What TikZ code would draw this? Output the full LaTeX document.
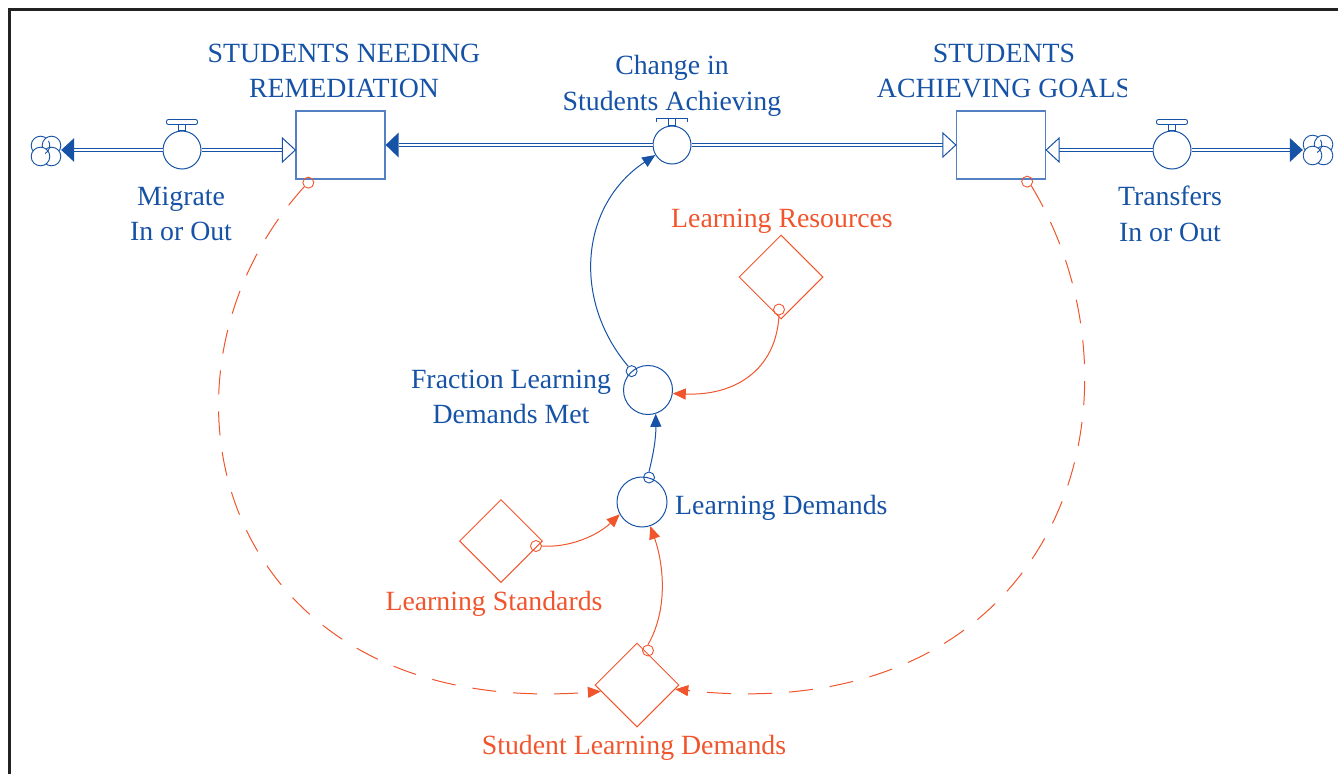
\documentclass[tikz,border=0pt]{standalone}
\usepackage{fontspec}
\setmainfont{Liberation Serif}
\usetikzlibrary{arrows.meta,shapes.geometric,calc}
\definecolor{vblue}{RGB}{22,82,165}
\definecolor{vbox}{RGB}{85,128,196}
\definecolor{vred}{RGB}{240,85,45}
\definecolor{framec}{RGB}{34,34,34}
\begin{document}
\begin{tikzpicture}[x=1pt,y=-1pt,
  txt/.style={inner sep=0pt, font=\fontsize{27.8}{35.5}\selectfont, align=center},
  bluetxt/.style={txt, text=vblue},
  redtxt/.style={txt, text=vred},
  stock/.style={draw=vbox, line width=1.3pt, minimum width=89pt, minimum height=68pt, inner sep=0pt},
  valve/.style={circle, draw=vblue, line width=1pt, minimum size=38pt, inner sep=0pt},
  auxv/.style={circle, draw=vblue, line width=1pt, inner sep=0pt},
  constv/.style={diamond, draw=vred, line width=1pt, minimum size=84pt, inner sep=0pt},
  cloudn/.style={circle, draw=none, minimum size=30pt, inner sep=0pt},
  pipe/.style={draw=vblue, double=white, line width=1.1pt, double distance=2.4pt},
  link/.style={line width=1pt, -{Triangle[length=13pt,width=11pt]}},
  dlink/.style={line width=1pt, dash pattern=on 24pt off 17pt, -{Triangle[length=13pt,width=11pt]}},
  tailc/.style={circle, line width=0.9pt, minimum size=11pt, inner sep=0pt},
  headfill/.style={fill=vblue},
  headopen/.style={draw=vblue, fill=white, line width=1pt, line join=miter},
  puff/.style={draw=vblue, fill=white, line width=0.9pt}
]
\useasboundingbox (0,0) rectangle (1338,774);
% frame
\draw[framec, line width=3pt] (9.5,774) -- (9.5,9.5) -- (1338,9.5);

% stocks
\node[stock] (boxL) at (340.5,145) {};
\node[stock] (boxR) at (1001,145) {};
\node[bluetxt] (lblL) at (344,71) {STUDENTS NEEDING\\REMEDIATION};
\begin{scope}
  \clip (850,20) rectangle (1126,110);
  \node[bluetxt] (lblR) at (1004,71) {STUDENTS\\ACHIEVING GOALS};
\end{scope}

% clouds
\node[cloudn] (cloudL) at (46,151) {};
\node[cloudn] (cloudR) at (1318,150) {};
\foreach \c in {cloudL,cloudR}{
  \draw[puff] ($(\c)+(-5.5,-5.5)$) circle (9.3);
  \draw[puff] ($(\c)+(5.5,-5.5)$) circle (9.3);
  \draw[puff] ($(\c)+(5.5,5.5)$) circle (9.3);
  \draw[puff] ($(\c)+(-5.5,5.5)$) circle (9.3);
  \draw[draw=vblue, line width=0.9pt] ($(\c)+(-5.5,-5.5)+(-30:9.3)$) arc (-30:60:9.3);
}

% valves
\node[valve] (vMig) at (182,150) {};
\node[valve] (vChg) at (672,145) {};
\node[valve] (vTr) at (1172,150) {};
\foreach \v in {vMig,vTr}{
  \draw[draw=vblue, fill=white, line width=0.9pt] ($(\v.north)+(-3.5,0)$) rectangle ++(7,-6);
  \draw[draw=vblue, fill=white, line width=0.9pt, rounded corners=2pt] ($(\v.north)+(-15.5,-6)$) rectangle ++(31,-5);
}
\draw[draw=vblue, fill=white, line width=0.9pt] ($(vChg.north)+(-3.5,0)$) rectangle ++(7,-7);
\draw[draw=vblue, line width=0.9pt] ($(vChg.north)+(-15.5,-4)$) -- ++(0,-3) -- ++(31,0) -- ++(0,3);

% pipes
\draw[pipe, shorten >=13pt] (vMig.west) -- (vMig.west -| cloudL.east);
\fill[headfill] (vMig.west -| cloudL.east) -- ++(13,-12) -- ++(0,24) -- cycle;
\coordinate (inL) at (vMig.east -| boxL.west);
\draw[pipe, shorten >=12pt] (vMig.east) -- (inL);
\draw[headopen] (inL) -- ++(-13,-12) -- ++(0,24) -- cycle;

\draw[pipe, shorten >=13pt] (vChg.west) -- (boxL.east);
\fill[headfill] (boxL.east) -- ++(13,-12.5) -- ++(0,25) -- cycle;
\draw[pipe, shorten >=12pt] (vChg.east) -- (boxR.west);
\draw[headopen] (boxR.west) -- ++(-13,-12) -- ++(0,24) -- cycle;

\coordinate (inR) at (vTr.west -| boxR.east);
\draw[pipe, shorten >=12pt] (vTr.west) -- (inR);
\draw[headopen] (inR) -- ++(13,-12) -- ++(0,24) -- cycle;
\draw[pipe, shorten >=13pt] (vTr.east) -- (vTr.east -| cloudR.west);
\fill[headfill] (vTr.east -| cloudR.west) -- ++(-13,-12) -- ++(0,24) -- cycle;

% valve labels
\node[bluetxt] (lblChg) at (672,86) {Change in\\Students Achieving};
\node[bluetxt] (lblMig) at (181,214) {Migrate\\In or Out};
\node[bluetxt] (lblTr) at (1170,214) {Transfers\\In or Out};

% auxiliaries
\node[auxv, minimum size=49pt] (fr) at (648,390) {};
\node[bluetxt] (lblFr) at (511,397) {Fraction Learning\\Demands Met};
\node[auxv, minimum size=50pt] (ld) at (642,502) {};
\node[bluetxt, anchor=west] (lblLd) at (675,508) {Learning Demands};

% constants
\node[constv] (dLR) at (781,277) {};
\node[redtxt] (lblLR) at (782,221) {Learning Resources};
\node[constv, minimum size=83pt] (dLS) at (501,541) {};
\node[redtxt] (lblLS) at (494,604) {Learning Standards};
\node[constv] (dSL) at (637,685) {};
\node[redtxt] (lblSL) at (634,748) {Student Learning Demands};

% link tails
\node[tailc, draw=vblue] (t1) at (fr.131) {};
\node[tailc, draw=vred] (t2) at ($(dLR.south)+(-2,-10)$) {};
\node[tailc, draw=vblue] (t3) at (ld.74) {};
\node[tailc, draw=vred] (t4) at ($(dLS.east)+(-7,5)$) {};
\node[tailc, draw=vred] (t5) at ($(dSL.north)+(11,8)$) {};
\node[tailc, draw=vred] (t6) at ($(boxL.south west)+(13,3)$) {};
\node[tailc, draw=vred] (t7) at ($(boxR.south east)+(-19,2)$) {};

% links
\draw[link, vblue] (t1.125) .. controls (572,300) and (580,205) .. (vChg.211);
\draw[link, vred] (t2.south) .. controls (776,370) and (735,396) .. (fr.-8);
\draw[link, vblue] (t3.north) .. controls (653,455) and (656,440) .. (fr.-72);
\draw[link, vred] (t4.east) .. controls (570,548) and (598,535) .. (ld.209);
\draw[link, vred] (t5.north) .. controls (668,610) and (664,565) .. (ld.-71);
\draw[dlink, vred] (t6.south west) .. controls (130,380) and (220,720) .. ($(dSL.west)!0.15!(dSL.south)$);
\draw[dlink, vred] (t7.south east) .. controls (1160,400) and (1060,730) .. ($(dSL.east)!0.1!(dSL.south)$);
\end{tikzpicture}
\end{document}
